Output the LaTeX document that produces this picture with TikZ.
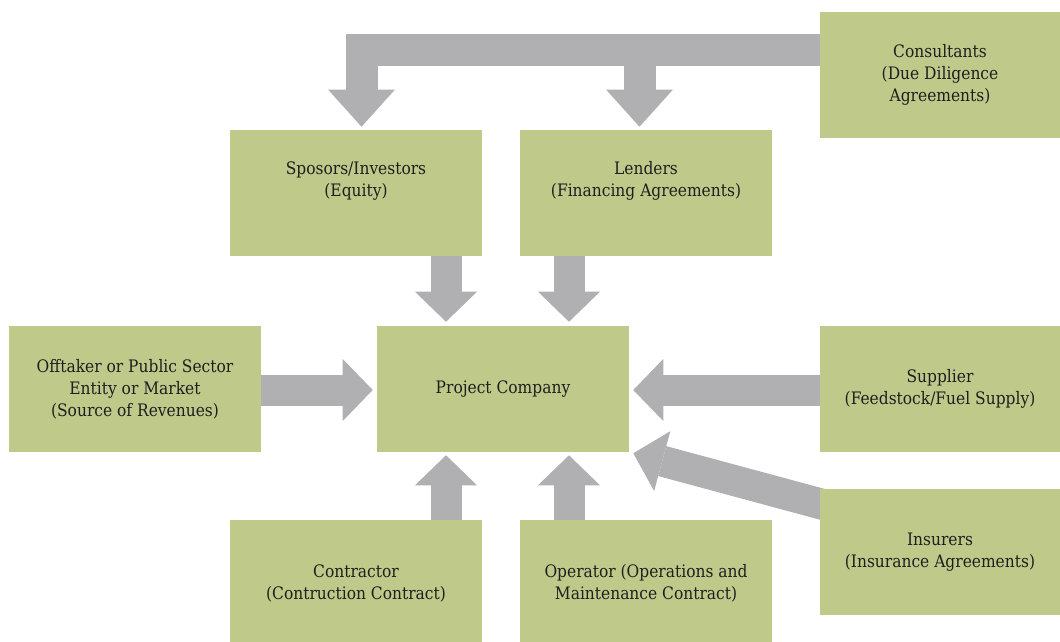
\documentclass[tikz,border=0pt]{standalone}
\usepackage{fontspec}
\setmainfont{DejaVu Serif Condensed}
\usetikzlibrary{arrows.meta,calc}
\pgfdeclarelayer{bg}
\pgfsetlayers{bg,main}
\definecolor{boxgreen}{RGB}{191,202,138}
\definecolor{arrowgray}{RGB}{176,176,178}
\definecolor{txt}{RGB}{30,30,30}
\begin{document}
\begin{tikzpicture}[x=0.75pt,y=-0.75pt,
  box/.style={rectangle, fill=boxgreen, inner sep=0pt, minimum width=189pt, minimum height=94.5pt,
    text=txt, align=center, font=\fontsize{12.9}{16.5}\selectfont},
  widebox/.style={box, minimum width=180pt},
  lbl/.style={text=txt, align=center, inner sep=0pt, font=\fontsize{12.9}{16.5}\selectfont},
  bigarrow/.style={draw=arrowgray, line width=23.25pt, line cap=butt, line join=miter,
    -{Triangle[length=22.5pt,width=46.5pt,line width=0pt]}},
  consarrow/.style={draw=arrowgray, line width=24pt, line cap=butt, line join=miter,
    -{Triangle[length=27.75pt,width=50pt,line width=0pt]}},
  ]
\useasboundingbox (0,0) rectangle (1060,642);
% boxes
\node[widebox] (cons) at (940,75) {Consultants\\(Due Diligence\\Agreements)};
\node[box] (spons) at (356,193) {};
\node[lbl] (sponst) at ($(spons.center)+(0,-12)$) {Sposors/Investors\\(Equity)};
\node[box] (lend) at (646,193) {};
\node[lbl] (lendt) at ($(lend.center)+(0,-12)$) {Lenders\\(Financing Agreements)};
\node[box] (proj) at (503,389) {Project Company};
\node[box] (off) at (135,389) {Offtaker or Public Sector\\Entity or Market\\(Source of Revenues)};
\node[widebox] (supp) at (940,389) {Supplier\\(Feedstock/Fuel Supply)};
\node[widebox] (ins) at (940,552) {Insurers\\(Insurance Agreements)};
\node[box] (contr) at (356,583) {Contractor\\(Contruction Contract)};
\node[box] (oper) at (646,583) {Operator (Operations and\\Maintenance Contract)};
% arrows
\begin{pgfonlayer}{bg}
\draw[consarrow] ($(cons.west)+(0,-25)$) -| ($(spons.north)+(5.5,-3)$);
\draw[consarrow] ($(lend.north)+(-6.5,-80)$) -- ($(lend.north)+(-6.5,-3)$);
\draw[bigarrow] ($(spons.south)+(90,0)$) -- ($(proj.north)+(-57,-4)$);
\draw[bigarrow] ($(lend.south)+(-77,0)$) -- ($(proj.north)+(66,-4)$);
\draw[bigarrow] ($(contr.north)+(90,0)$) -- ($(proj.south)+(-57,3)$);
\draw[bigarrow] ($(oper.north)+(-77,0)$) -- ($(proj.south)+(66,3)$);
\draw[bigarrow] ($(off.east)+(0,1)$) -- ($(proj.west)+(-4,1)$);
\draw[bigarrow] ($(supp.west)+(0,1)$) -- ($(proj.east)+(4,1)$);
\draw[bigarrow] ($(ins.west)+(20,-43)$) -- ($(proj.south east)+(4,1)$);
\end{pgfonlayer}
\end{tikzpicture}
\end{document}
